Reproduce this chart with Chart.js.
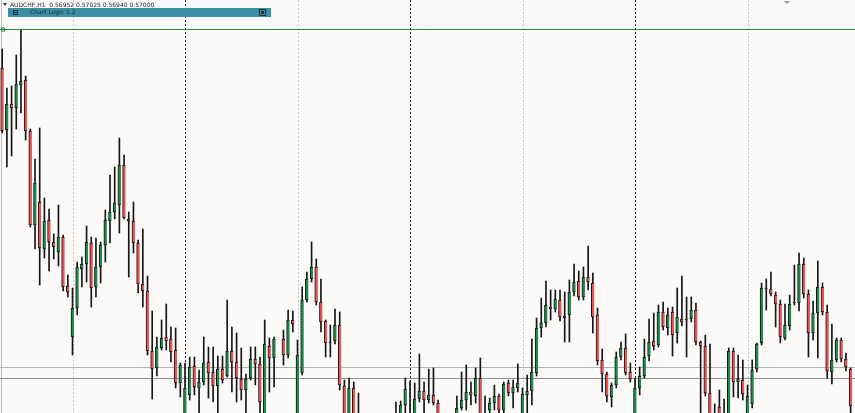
<!DOCTYPE html>
<html>
<head>
<meta charset="utf-8">
<script src="https://cdn.jsdelivr.net/npm/chart.js@4.4.1/dist/chart.umd.min.js"></script>
<style>
html,body{margin:0;padding:0;background:#fcf9f9;overflow:hidden;}
#wrap{width:855px;height:413px;}
</style>
</head>
<body>
<div id="wrap"><canvas id="myChart" width="855" height="413"></canvas></div>
<script>
// bars, in points above the bottom edge of the window
// (negative = the bar runs below the visible area). null = no bar drawn there.
const open = [345,283,309,305,328,333,282,188,211,164, 193,171,161,176,127,76,105,144,149,170,
  126,146,168,192,201,208,248,194,192,170, 129,122,62,45,65,76,74,63,30,-17,
  18,47,25,31,51,41,27,44,37,62, 51,34,23,35,54,49,-12,67,55,null,
  74,58,93,-17,40,113,134,146,111,92, 71,72,88,27,-12,25,-7,-12,-17,-25,
  -17,-22,-15,-12,-5,-7,8,-5,-7,14, 22,13,18,10,-7,-17,-12,-7,5,13,
  21,17,35,-5,3,10,17,3,30,20, 25,-7,18,22,40,85,90,106,104,113,
  95,98,121,132,116,136,130,98,53,39, 16,28,56,65,41,-7,25,37,57,72,
  68,101,85,101,80,94,93,94,103,71, 67,20,-7,6,-5,-7,62,31,33,-7,
  9,44,70,124,124,118,109,75,87,110, 110,149,119,80,100,126,101,41,53,73,
  54,44];
const high = [364,325,327,358,383,337,284,254,285,215, 204,179,208,178,138,125,151,156,187,176,
  175,171,203,238,246,275,258,201,211,173, 184,137,102,76,93,109,86,85,50,50,
  56,56,43,76,66,66,57,57,113,86, 80,65,39,66,66,56,93,75,76,null,
  83,103,102,73,126,141,171,154,134,93, 88,104,101,33,35,31,20,-5,-7,-12,
  -9,-7,-5,-2,11,12,35,32,30,59, 31,44,45,13,-2,-5,-3,17,41,48,
  31,45,55,17,15,28,19,31,33,33, 49,25,38,74,95,115,132,123,123,123,
  121,133,149,142,146,167,140,105,64,41, 30,61,71,79,50,35,46,74,94,100,
  108,111,105,106,125,137,116,116,110,72, 78,69,9,23,14,65,65,58,53,28,
  53,70,130,134,141,121,113,109,118,148, 160,155,123,112,152,130,108,89,75,75,
  60,45];
const low = [280,246,257,284,300,273,186,164,128,155, 142,154,147,122,116,58,98,126,131,106,
  116,130,151,170,194,180,194,136,160,120, 106,58,14,37,63,63,51,25,16,-27,
  13,18,-3,28,15,11,-3,30,36,21, 11,13,-3,33,28,-3,-17,21,26,null,
  48,55,81,-27,38,111,131,108,81,56, 56,69,23,-17,-22,-17,-17,-27,-32,-37,
  -27,-32,-27,-22,-17,-12,-3,-17,-12,11, -3,10,8,-12,-22,-27,-19,-12,3,3,
  8,10,-12,-12,-3,3,-3,-3,17,5, 21,-12,-3,8,37,76,86,93,101,92,
  71,71,117,113,113,123,80,48,21,11, 6,25,53,38,31,-12,18,35,52,63,
  66,83,78,57,70,87,56,91,68,-3, 17,-12,-17,-12,-17,-12,16,15,13,-12,
  5,41,68,103,117,86,70,73,83,108, 102,115,56,73,55,98,35,29,51,51,
  42,-3];
const close = [282,309,305,329,332,282,188,230,165,192, 171,166,176,126,121,105,146,149,171,125,
  146,168,193,201,210,248,195,192,170,129, 122,62,44,66,75,72,61,30,48,25,
  46,26,31,50,40,27,44,33,62,51, 35,23,34,54,49,11,69,55,74,null,
  58,93,89,58,113,134,146,111,91,70, 70,88,28,-12,25,-9,-12,-19,-25,-17,
  -22,-15,-12,-7,-12,8,24,-12,14,22, 13,18,10,-7,-17,-12,-7,5,13,21,
  18,35,-5,-1,10,17,3,29,20,26, 30,19,22,41,85,90,108,104,114,96,
  97,121,131,116,136,131,96,52,39,17, 28,56,65,40,34,25,37,56,71,67,
  101,86,98,78,96,91,94,103,71,67, 20,-7,-12,-5,-12,62,31,34,19,17,
  43,69,125,125,119,109,76,88,109,111, 149,119,80,100,126,101,42,53,73,54,
  46,7];

const daySeparators = [39, 87, 135];      // dotted black lines
const halfSeparators = [15, 63, 111, 159]; // dashed grey lines
const greyLevels = [46, 35];
const greenLevel = 384;
const headerText = 'AUDCHF,H1  0.56952 0.57025 0.56940 0.57000';
const panelTitle = 'Chart Logic 1.2';

const wicks = [], bodies = [], bodyColors = [];
for (let i = 0; i < open.length; i++) {
  if (open[i] == null) continue;
  wicks.push({x: i, y: [low[i], high[i]]});
  bodies.push({x: i, y: [open[i], close[i]]});
  bodyColors.push(close[i] > open[i] ? '#22894a' : '#e2565a');
}

const chartDecor = {
  id: 'chartDecor',
  beforeDraw(chart) {
    const ctx = chart.ctx;
    ctx.save();
    ctx.fillStyle = '#fcf9f9';
    ctx.fillRect(0, 0, chart.width, chart.height);
    ctx.restore();
  },
  beforeDatasetsDraw(chart) {
    const {ctx, scales: {x, y}} = chart;
    const H = chart.height, W = chart.width;
    ctx.save();
    ctx.lineWidth = 1;
    // left edge
    ctx.strokeStyle = '#bdbdbd';
    ctx.beginPath(); ctx.moveTo(1.5, 0); ctx.lineTo(1.5, H); ctx.stroke();
    ctx.setLineDash([2, 2]);
    ctx.strokeStyle = '#c6c6c6';
    halfSeparators.forEach(function(i) {
      const px = Math.round(x.getPixelForValue(i)) + 0.5;
      ctx.beginPath(); ctx.moveTo(px, 0); ctx.lineTo(px, H); ctx.stroke();
    });
    ctx.strokeStyle = '#262626';
    daySeparators.forEach(function(i) {
      const px = Math.round(x.getPixelForValue(i)) + 0.5;
      ctx.beginPath(); ctx.moveTo(px, 0); ctx.lineTo(px, H); ctx.stroke();
    });
    ctx.setLineDash([]);
    ['#b2b2b2', '#8f8f8f'].forEach(function(col, k) {
      const py = Math.round(y.getPixelForValue(greyLevels[k])) + 0.5;
      ctx.strokeStyle = col;
      ctx.beginPath(); ctx.moveTo(0, py); ctx.lineTo(W, py); ctx.stroke();
    });
    ctx.restore();
  },
  afterDatasetsDraw(chart) {
    const {ctx, scales: {y}} = chart;
    const W = chart.width;
    ctx.save();
    const py = Math.round(y.getPixelForValue(greenLevel)) + 0.5;
    ctx.strokeStyle = '#2b8a3f';
    ctx.lineWidth = 1;
    ctx.beginPath(); ctx.moveTo(0, py); ctx.lineTo(W, py); ctx.stroke();
    ctx.strokeRect(1.5, py - 1.5, 3, 3);
    ctx.restore();
  },
  afterDraw(chart) {
    const ctx = chart.ctx;
    ctx.save();
    // small triangle + symbol line
    ctx.fillStyle = '#333';
    ctx.beginPath(); ctx.moveTo(3, 3); ctx.lineTo(7, 3); ctx.lineTo(5, 6); ctx.closePath(); ctx.fill();
    ctx.font = '6px "DejaVu Sans"';
    ctx.textBaseline = 'middle';
    ctx.fillStyle = '#2a2a2a';
    ctx.fillText(headerText, 10, 5);
    // indicator panel
    ctx.fillStyle = '#3b8fa3';
    ctx.fillRect(8, 8, 263, 9);
    ctx.strokeStyle = '#1d3540';
    ctx.lineWidth = 1;
    ctx.strokeRect(13.5, 10.5, 4, 4);
    ctx.beginPath(); ctx.moveTo(14, 12.5); ctx.lineTo(17, 12.5); ctx.stroke();
    ctx.strokeRect(259.5, 9.5, 6, 6);
    ctx.fillStyle = '#1d3540';
    ctx.fillRect(261, 11, 3, 3);
    ctx.fillStyle = '#15303a';
    ctx.fillText(panelTitle, 30, 12.5);
    // scroll marker at top
    ctx.fillStyle = '#9a9a9a';
    ctx.beginPath(); ctx.moveTo(784, 1); ctx.lineTo(790, 1); ctx.lineTo(787, 4); ctx.closePath(); ctx.fill();
    ctx.restore();
  }
};

const ctx = document.getElementById('myChart').getContext('2d');
const priceChart = new Chart(ctx, {
  type: 'bar',
  data: {
    datasets: [{
      label: 'wick',
      data: wicks,
      backgroundColor: '#151515',
      barThickness: 1,
      grouped: false,
      order: 2
    }, {
      label: 'body',
      data: bodies,
      backgroundColor: bodyColors,
      borderColor: '#141414',
      borderWidth: {top: 1, bottom: 1, left: 1, right: 0},
      borderSkipped: false,
      barThickness: 3,
      grouped: false,
      order: 1
    }]
  },
  options: {
    responsive: false,
    animation: false,
    devicePixelRatio: 1,
    layout: {padding: 0},
    scales: {
      x: {type: 'linear', min: -0.4693, max: 181.93, offset: false, display: false},
      y: {min: 0, max: 413, display: false}
    },
    plugins: {
      legend: {display: false},
      tooltip: {enabled: false}
    }
  },
  plugins: [chartDecor]
});
</script>
</body>
</html>
